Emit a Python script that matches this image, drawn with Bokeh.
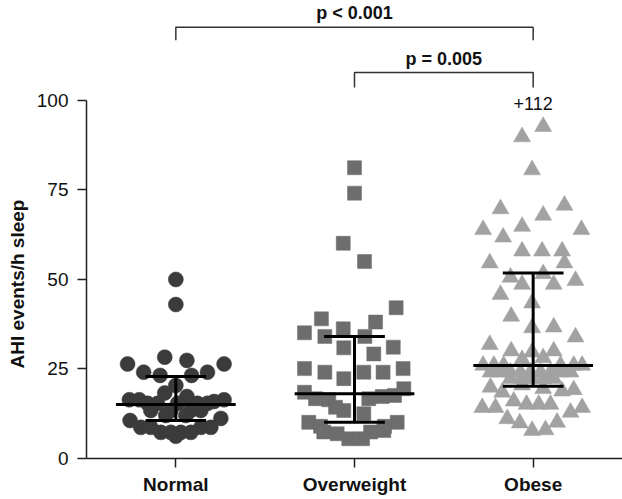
from bokeh.plotting import figure
from bokeh.models import Range1d, FixedTicker, Label, ColumnDataSource, Title
from bokeh.embed import file_html
from bokeh.resources import INLINE

# ---------------- data ----------------
categories = ["Normal", "Overweight", "Obese"]
cat_pos = [1, 2, 3]

normal_values = [50.0, 43.0, 26.4, 28.3, 27.4, 26.4, 24.1, 24.1, 23.2, 23.2,
                 20.4, 18.3, 17.3, 16.4, 16.4, 16.4, 15.9, 15.4, 15.4, 15.4,
                 15.4, 15.4, 13.4, 13.4, 13.4, 13.4, 12.0, 12.0, 10.6, 11.2,
                 8.7, 8.7, 8.7, 8.7, 7.3, 7.3, 7.3, 7.3, 6.2]
normal_offsets = [0.0, 0.0, -0.27, -0.062, 0.062, 0.27, -0.18, 0.177, -0.088, 0.088,
                  0.0, -0.062, 0.062, -0.26, -0.205, 0.27, 0.214, -0.158, -0.102, 0.01,
                  0.121, 0.177, -0.14, -0.028, 0.084, 0.14, -0.056, 0.056, -0.256, 0.252,
                  -0.196, -0.14, 0.14, 0.196, -0.084, -0.028, 0.028, 0.084, 0.0]

overweight_values = [81.2, 74.1, 60.1, 55.0, 42.1, 39.0, 38.1, 35.1, 34.1, 36.2,
                     34.1, 30.9, 29.2, 31.1, 25.1, 24.1, 22.3, 24.1, 24.1, 25.1,
                     18.5, 16.7, 16.4, 16.7, 17.3, 17.6, 19.5, 13.4, 12.5, 10.1,
                     10.1, 9.0, 9.0, 7.4, 6.9, 7.4, 7.8, 5.5, 5.5, 14.3]
overweight_offsets = [0.0, 0.0, -0.063, 0.056, 0.233, -0.185, 0.118, -0.28, -0.166, -0.063,
                      0.058, -0.06, 0.108, 0.217, -0.28, -0.166, -0.06, 0.052, 0.16, 0.272,
                      -0.28, -0.218, -0.144, 0.08, 0.155, 0.224, 0.276, -0.06, 0.052, -0.256,
                      0.239, -0.19, 0.168, -0.172, -0.097, 0.09, 0.164, -0.032, 0.045, -0.106]

obese_values = [92.7, 89.8, 80.6, 69.7, 70.7, 67.9, 63.9, 64.8, 61.8, 63.9,
                57.9, 57.9, 57.9, 54.6, 54.6, 50.6, 51.6, 48.6, 48.6, 49.7,
                45.8, 43.4, 39.7, 36.7, 36.5, 33.9, 31.8, 30.0, 29.7, 30.0,
                27.6, 28.1, 26.0, 26.0, 26.0, 26.0, 26.0, 26.0, 24.1, 24.1,
                24.1, 24.1, 24.1, 24.1, 24.1, 24.1, 24.1, 22.3, 22.3, 22.3,
                22.3, 22.3, 19.9, 18.5, 19.5, 18.8, 19.2, 20.5, 14.2, 14.2,
                16.0, 15.1, 15.1, 15.1, 12.9, 14.2, 11.1, 9.9, 10.1, 7.8, 8.0]
obese_offsets = [0.056, -0.062, -0.006, -0.183, 0.175, 0.056, -0.28, -0.062, -0.168, 0.27,
                 -0.062, 0.05, 0.162, -0.243, 0.175, -0.127, 0.056, -0.062, 0.115, 0.237,
                 -0.183, -0.006, -0.123, 0.115, -0.006, 0.237, -0.243, -0.123, -0.006, 0.115,
                 -0.062, 0.056, -0.28, -0.22, -0.165, 0.153, 0.227, 0.274, -0.239, -0.183,
                 -0.127, -0.071, -0.015, 0.041, 0.097, 0.153, 0.209, -0.127, -0.062, -0.006,
                 0.059, 0.115, -0.239, -0.173, 0.056, 0.162, 0.227, -0.062, -0.285, -0.211,
                 -0.109, -0.037, 0.031, 0.097, 0.209, 0.274, -0.145, -0.075, 0.134, -0.006, 0.069]

medians = [15.1, 18.1, 26.0]
q1s = [10.6, 10.1, 20.2]
q3s = [22.9, 34.1, 51.8]

y_ticks = [0, 25, 50, 75, 100]
y_label = "AHI events/h sleep"
outlier_note = "+112"
comparisons = [(1, 3, "p < 0.001"), (2, 3, "p = 0.005")]

# ---------------- figure ----------------
p = figure(width=622, height=499, output_backend="svg", toolbar_location=None,
           x_range=Range1d(0.5, 3.5), y_range=Range1d(0, 127.9),
           min_border_left=86, min_border_right=0, min_border_top=0,
           min_border_bottom=41)
p.outline_line_color = None
p.xgrid.visible = False
p.ygrid.visible = False
p.background_fill_color = "white"
p.border_fill_color = "white"

FONT = "Liberation Sans"
AX = "#231f20"

def pts(cat, vals, offs):
    return dict(x=[cat + o for o in offs], y=vals)

p.scatter(source=ColumnDataSource(pts(1, normal_values, normal_offsets)), x="x", y="y",
          marker="circle", size=15, fill_color="#3b3b3b", line_color="#3b3b3b", line_width=0.5)
p.scatter(source=ColumnDataSource(pts(2, overweight_values, overweight_offsets)), x="x", y="y",
          marker="square", size=14, fill_color="#6d6d6d", line_color="#6d6d6d", line_width=0.5)
p.scatter(source=ColumnDataSource(pts(3, obese_values, obese_offsets)), x="x", y="y",
          marker="triangle", size=17, fill_color="#a2a2a2", line_color="#a2a2a2", line_width=0.5)

# median and interquartile range bars
p.segment(x0=cat_pos, y0=q1s, x1=cat_pos, y1=q3s, line_color="black", line_width=3)
p.segment(x0=[c - 0.17 for c in cat_pos], y0=q1s, x1=[c + 0.17 for c in cat_pos], y1=q1s,
          line_color="black", line_width=3)
p.segment(x0=[c - 0.17 for c in cat_pos], y0=q3s, x1=[c + 0.17 for c in cat_pos], y1=q3s,
          line_color="black", line_width=3)
p.segment(x0=[c - 0.335 for c in cat_pos], y0=medians, x1=[c + 0.335 for c in cat_pos], y1=medians,
          line_color="black", line_width=3)

# significance brackets
bracket_top = [120.4, 107.8]
bracket_bottom = [116.8, 103.6]
text_y = [124.5, 111.7]
for (a, b, txt), yt, yb, ty in zip(comparisons, bracket_top, bracket_bottom, text_y):
    p.line(x=[a, a, b, b], y=[yb, yt, yt, yb], line_color="#333333", line_width=1.5)
    p.add_layout(Label(x=(a + b) / 2, y=ty, text=txt, text_align="center",
                       text_baseline="alphabetic", text_font=FONT, text_font_style="bold",
                       text_font_size="18px", text_color="#111111"))

p.add_layout(Label(x=3, y=99.0, text=outlier_note, text_align="center",
                   text_baseline="alphabetic", text_font=FONT,
                   text_font_size="18px", text_color="#111111"))

# y axis title, placed along the 0-100 span of the axis
p.add_layout(Title(text=y_label, align="left", offset=90, vertical_align="middle",
                   text_font=FONT, text_font_style="bold", text_font_size="19px",
                   text_color="#111111", standoff=10), "left")

# axes
p.xaxis.ticker = FixedTicker(ticks=cat_pos)
p.xaxis.major_label_overrides = {c: n for c, n in zip(cat_pos, categories)}
p.xaxis.major_label_text_font = FONT
p.xaxis.major_label_text_font_style = "bold"
p.xaxis.major_label_text_font_size = "19px"
p.xaxis.major_label_text_color = "#111111"
p.xaxis.major_label_standoff = 6
p.xaxis.minor_tick_line_color = None
p.xaxis.major_tick_in = 0
p.xaxis.major_tick_out = 9

p.yaxis.ticker = FixedTicker(ticks=y_ticks)
p.yaxis.bounds = (0, 100)
p.yaxis.major_label_text_font = FONT
p.yaxis.major_label_text_font_size = "19px"
p.yaxis.major_label_text_color = "#111111"
p.yaxis.major_label_standoff = 9
p.yaxis.minor_tick_line_color = None
p.yaxis.major_tick_in = 0
p.yaxis.major_tick_out = 9

for ax in (p.xaxis, p.yaxis):
    ax.axis_line_color = AX
    ax.axis_line_width = 1.5
    ax.major_tick_line_color = AX
    ax.major_tick_line_width = 1.5

open("out.html", "w").write(file_html(p, INLINE))
